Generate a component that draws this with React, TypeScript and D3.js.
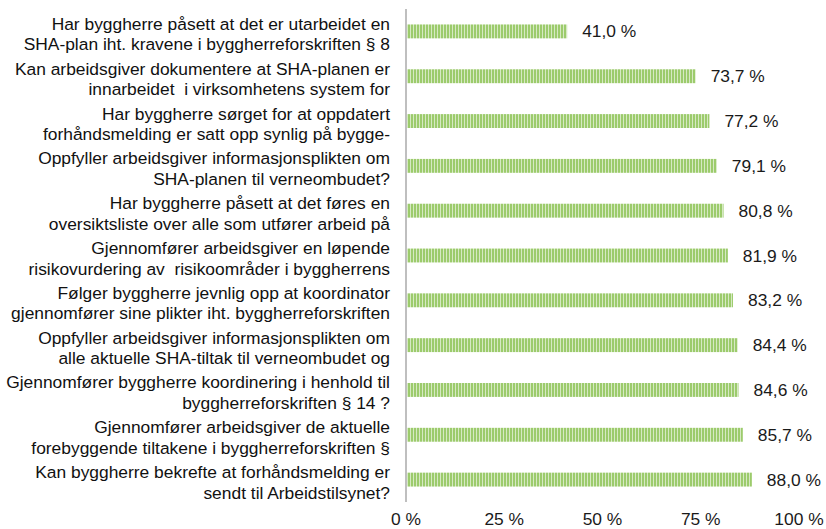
import * as d3 from 'd3';
import { useEffect, useRef } from 'react';

const questions: string[][] = [
  ['Har byggherre påsett at det er utarbeidet en', 'SHA-plan iht. kravene i byggherreforskriften § 8'],
  ['Kan arbeidsgiver dokumentere at SHA-planen er', 'innarbeidet  i virksomhetens system for'],
  ['Har byggherre sørget for at oppdatert', 'forhåndsmelding er satt opp synlig på bygge-'],
  ['Oppfyller arbeidsgiver informasjonsplikten om', 'SHA-planen til verneombudet?'],
  ['Har byggherre påsett at det føres en', 'oversiktsliste over alle som utfører arbeid på'],
  ['Gjennomfører arbeidsgiver en løpende', 'risikovurdering av  risikoområder i byggherrens'],
  ['Følger byggherre jevnlig opp at koordinator', 'gjennomfører sine plikter iht. byggherreforskriften'],
  ['Oppfyller arbeidsgiver informasjonsplikten om', 'alle aktuelle SHA-tiltak til verneombudet og'],
  ['Gjennomfører byggherre koordinering i henhold til', 'byggherreforskriften § 14 ?'],
  ['Gjennomfører arbeidsgiver de aktuelle', 'forebyggende tiltakene i byggherreforskriften §'],
  ['Kan byggherre bekrefte at forhåndsmelding er', 'sendt til Arbeidstilsynet?'],
];

const values = [41.0, 73.7, 77.2, 79.1, 80.8, 81.9, 83.2, 84.4, 84.6, 85.7, 88.0];

const ticks = [0, 25, 50, 75, 100];

const width = 826;
const height = 529;
const margin = { top: 9, right: 27, bottom: 27, left: 406 };
const font = '"Liberation Sans", Arial, sans-serif';
const fontSize = 17.4;

const fmt = (v: number) => `${v.toFixed(1).replace('.', ',')} %`;

export default function App() {
  const ref = useRef<SVGSVGElement>(null);

  useEffect(() => {
    document.body.style.margin = '0';
    const svg = d3.select(ref.current);
    svg.selectAll('*').remove();

    const x = d3.scaleLinear([0, 100], [margin.left, 799]);
    const y = d3
      .scaleBand(d3.range(questions.length), [margin.top, height - margin.bottom])
      .paddingInner(0.69)
      .paddingOuter(0.345);

    // striped green fill
    const pattern = svg
      .append('defs')
      .append('pattern')
      .attr('id', 'stripes')
      .attr('patternUnits', 'userSpaceOnUse')
      .attr('width', 3)
      .attr('height', 10);
    pattern.append('rect').attr('width', 3).attr('height', 10).attr('fill', '#d6e9c3');
    pattern.append('rect').attr('width', 2).attr('height', 10).attr('fill', '#9ccb6c');

    svg
      .append('g')
      .selectAll('rect')
      .data(values)
      .join('rect')
      .attr('x', x(0))
      .attr('y', (_, i) => y(i)!)
      .attr('width', (d) => x(d) - x(0))
      .attr('height', y.bandwidth())
      .attr('fill', 'url(#stripes)');

    svg
      .append('g')
      .selectAll('text')
      .data(values)
      .join('text')
      .attr('x', (d) => x(d) + 15)
      .attr('y', (_, i) => y(i)! + y.bandwidth() / 2)
      .attr('dy', '0.35em')
      .attr('font-family', font)
      .attr('font-size', fontSize)
      .attr('fill', '#1a1a1a')
      .text((d) => fmt(d));

    const labels = svg
      .append('g')
      .selectAll('text')
      .data(questions)
      .join('text')
      .attr('text-anchor', 'end')
      .attr('font-family', font)
      .attr('font-size', fontSize)
      .attr('fill', '#111')
      .style('white-space', 'pre')
      .attr('transform', (_, i) => `translate(390, ${y(i)! + y.bandwidth() / 2})`);
    labels
      .selectAll('tspan')
      .data((d) => d)
      .join('tspan')
      .attr('x', 0)
      .attr('y', (_, j) => (j === 0 ? -1.5 : 19))
      .text((d) => d);

    // vertical axis line
    svg
      .append('line')
      .attr('x1', x(0))
      .attr('x2', x(0))
      .attr('y1', margin.top)
      .attr('y2', height - margin.bottom)
      .attr('stroke', '#bfbfbf')
      .attr('stroke-width', 2);

    svg
      .append('g')
      .selectAll('text')
      .data(ticks)
      .join('text')
      .attr('x', (d) => x(d))
      .attr('y', 519)
      .attr('dy', '0.35em')
      .attr('text-anchor', 'middle')
      .attr('font-family', font)
      .attr('font-size', fontSize)
      .attr('fill', '#1a1a1a')
      .text((d) => `${d} %`);
  }, []);

  return <svg ref={ref} width={width} height={height} style={{ display: 'block', background: '#fff' }} />;
}
